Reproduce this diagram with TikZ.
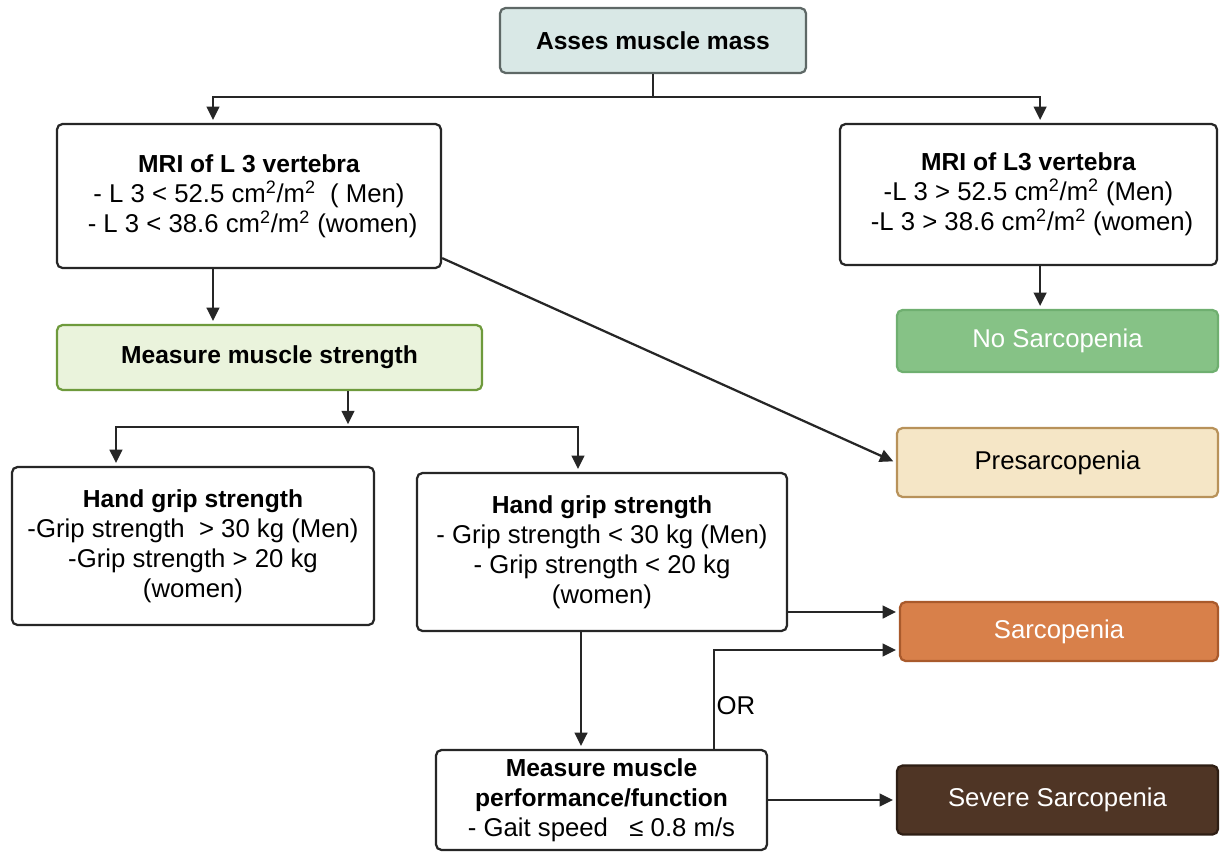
\documentclass[tikz,border=0pt]{standalone}
\usepackage{fontspec}
\setmainfont{Liberation Sans}
\usetikzlibrary{arrows.meta}
\definecolor{linec}{HTML}{262626}
\definecolor{massfill}{HTML}{D9E8E6}
\definecolor{massdraw}{HTML}{5E6866}
\definecolor{strfill}{HTML}{EAF3DC}
\definecolor{strdraw}{HTML}{6E9A3C}
\definecolor{nofill}{HTML}{86C286}
\definecolor{nodraw}{HTML}{6FAF70}
\definecolor{prefill}{HTML}{F5E6C6}
\definecolor{predraw}{HTML}{B8925A}
\definecolor{sarfill}{HTML}{D8804A}
\definecolor{sardraw}{HTML}{A95A2C}
\definecolor{sevfill}{HTML}{4F3525}
\definecolor{sevdraw}{HTML}{2E1E14}
\newcommand{\hd}[1]{{\fontsize{17.5}{21.3}\selectfont\bfseries #1}}

\begin{document}
\begin{tikzpicture}[x=0.025cm, y=-0.025cm,
  box/.style={draw=linec, line width=1.6pt, rounded corners=4pt, fill=white, align=center,
    inner sep=0pt, font=\fontsize{18.3}{21.3}\selectfont},
  result/.style={box, text=white, minimum width=8.025cm},
  ln/.style={draw=linec, line width=1.6pt},
  arr/.style={ln, shorten >=2pt, -{Triangle[length=9.5pt,width=9pt]}}]
\useasboundingbox (0,0) rectangle (1220,852);

\node[box, fill=massfill, draw=massdraw, minimum width=7.65cm, minimum height=1.625cm] (mass) at (653,40.5) {\hd{Asses muscle mass}};
\node[box, minimum width=9.6cm, minimum height=3.6cm] (mriL) at (249,196) {\hd{MRI of L 3 vertebra}\\- L 3 < 52.5 cm\textsuperscript{2}/m\textsuperscript{2}\ \ ( Men)\\\ - L 3 < 38.6 cm\textsuperscript{2}/m\textsuperscript{2} (women)};
\node[box, minimum width=9.425cm, minimum height=3.525cm] (mriR) at (1028.5,194.5) {\hd{MRI of L3 vertebra}\\-L 3 > 52.5 cm\textsuperscript{2}/m\textsuperscript{2} (Men)\\\ -L 3 > 38.6 cm\textsuperscript{2}/m\textsuperscript{2} (women)};
\node[box, fill=strfill, draw=strdraw, minimum width=10.625cm, minimum height=1.625cm] (strength) at (269.5,357.5) {\hd{Measure muscle strength}};
\node[result, fill=nofill, draw=nodraw, minimum height=1.55cm] (nosarc) at (1057.5,341) {No Sarcopenia};
\node[result, fill=prefill, draw=predraw, text=black, minimum height=1.725cm] (presarc) at (1057.5,462.5) {Presarcopenia};
\node[box, minimum width=9.05cm, minimum height=3.95cm] (gripL) at (193,546) {\hd{Hand grip strength}\\-Grip strength\ \ > 30 kg (Men)\\-Grip strength > 20 kg\\(women)};
\node[box, minimum width=9.25cm, minimum height=3.95cm] (gripR) at (602,552) {\hd{Hand grip strength}\\- Grip strength < 30 kg (Men)\\- Grip strength < 20 kg\\(women)};
\node[result, fill=sarfill, draw=sardraw, minimum width=7.95cm, minimum height=1.475cm] (sarc) at (1059,631.5) {Sarcopenia};
\node[box, minimum width=8.275cm, minimum height=2.5cm] (perf) at (601.5,800) {\hd{Measure muscle}\\\hd{performance/function}\\- Gait speed\ \ \ ≤ 0.8 m/s};
\node[result, fill=sevfill, draw=sevdraw, minimum height=1.725cm] (severe) at (1057.5,800) {Severe Sarcopenia};

\coordinate (split1) at (653,97);
\coordinate (split2) at (348,427);

\draw[ln] (mass.south) -- (split1);
\draw[arr] (split1) -| ([xshift=-0.9cm]mriL.north);
\draw[arr] (split1) -| ([xshift=0.29cm]mriR.north);
\draw[arr] ([xshift=0.29cm]mriR.south) -- ([xshift=0.29cm]mriR.south |- nosarc.north);
\draw[arr] ([xshift=-0.9cm]mriL.south) -- ([xshift=-0.9cm]mriL.south |- strength.north);
\draw[arr] ([yshift=0.275cm]mriL.south east) -- (presarc.west);
\draw[arr] (strength.south -| split2) -- (split2);
\draw[arr] (split2) -| ([xshift=-1.925cm]gripL.north);
\draw[arr] (split2) -| ([xshift=-0.6cm]gripR.north);
\draw[arr] ([yshift=-1.5cm]gripR.east) -- ([yshift=-1.5cm]gripR.east -| sarc.west);
\draw[arr] ([xshift=-0.525cm]gripR.south) -- ([xshift=-0.525cm]gripR.south |- perf.north);
\draw[arr] ([xshift=2.8125cm]perf.north) |- node[pos=0.22, anchor=west, inner sep=1pt, font=\fontsize{18.3}{21.3}\selectfont] (or) {OR} ([yshift=-0.4625cm]sarc.west);
\draw[arr] (perf.east) -- (severe.west);
\end{tikzpicture}
\end{document}
